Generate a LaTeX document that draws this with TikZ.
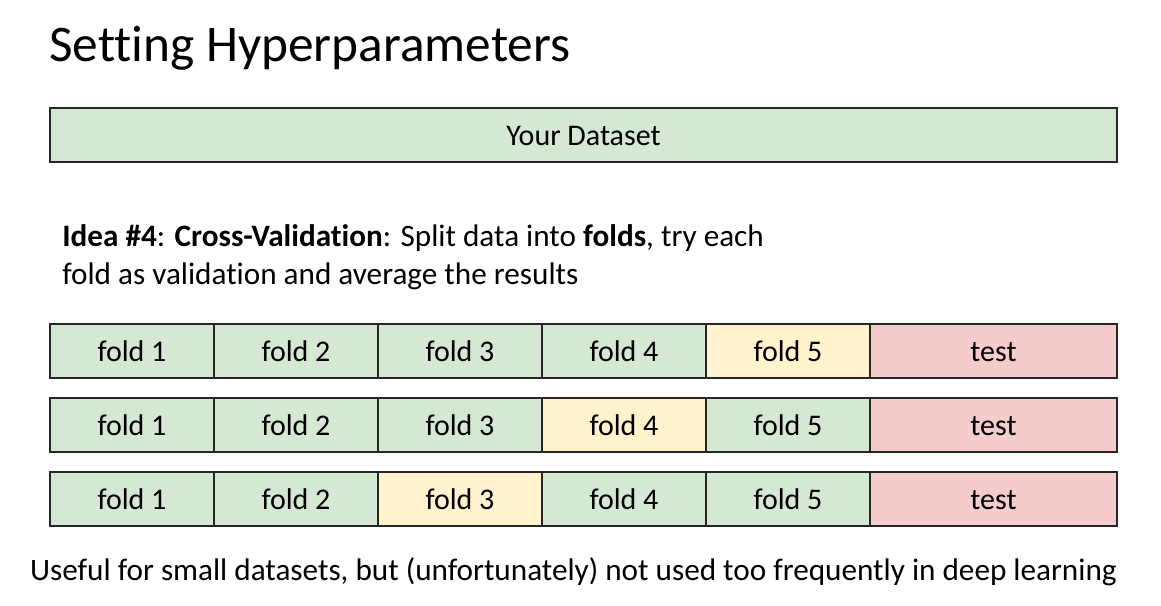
\documentclass[tikz,border=0pt]{standalone}
\usepackage{fontspec}
\setmainfont{Carlito}[Ligatures=NoCommon]
\usepackage{tikz}
\usetikzlibrary{positioning}
\definecolor{foldgreen}{HTML}{D5E8D4}
\definecolor{valyellow}{HTML}{FFF2CC}
\definecolor{testred}{HTML}{F4CCCC}

\begin{document}
\begin{tikzpicture}[x=0.75pt,y=-0.75pt,
	cell/.style={draw=black!85,line width=1.1pt,rectangle,inner sep=0pt,minimum height=40.5pt,text height=15.75pt,text depth=0pt,font=\fontsize{22.5pt}{27pt}\selectfont},
	fold/.style={cell,fill=foldgreen,minimum width=123pt},
	val/.style={cell,fill=valyellow,minimum width=123pt},
	testcell/.style={cell,fill=testred,minimum width=185.25pt},
	bodytext/.style={inner sep=0pt,font=\fontsize{23.4pt}{28pt}\selectfont}]
	\useasboundingbox (0,0) rectangle (1161,606);
	\node[anchor=base west,inner sep=0pt,font=\fontsize{38.5pt}{46pt}\selectfont] (title) at (49,62) {Setting Hyperparameters};
	\node[cell,fill=foldgreen,minimum width=800.25pt] (data) at (583.5,135) {Your Dataset};
	\node[bodytext,anchor=base west] (idea1) at (62,247) {\textbf{Idea \#4}: \textbf{Cross-Validation}: Split data into \textbf{folds}, try each};
	\node[bodytext,anchor=base west] (idea2) at (62,284) {fold as validation and average the results};
	\node[fold] (a1) at (132,351) {fold 1};
	\node[fold] (a2) at (296,351) {fold 2};
	\node[fold] (a3) at (460,351) {fold 3};
	\node[fold] (a4) at (624,351) {fold 4};
	\node[val] (a5) at (788,351) {fold 5};
	\node[testcell] (at) at (993.5,351) {test};
	\node[fold] (b1) at (132,425) {fold 1};
	\node[fold] (b2) at (296,425) {fold 2};
	\node[fold] (b3) at (460,425) {fold 3};
	\node[val] (b4) at (624,425) {fold 4};
	\node[fold] (b5) at (788,425) {fold 5};
	\node[testcell] (bt) at (993.5,425) {test};
	\node[fold] (c1) at (132,499) {fold 1};
	\node[fold] (c2) at (296,499) {fold 2};
	\node[val] (c3) at (460,499) {fold 3};
	\node[fold] (c4) at (624,499) {fold 4};
	\node[fold] (c5) at (788,499) {fold 5};
	\node[testcell] (ct) at (993.5,499) {test};
	\node[bodytext,anchor=base] (note) at (573.5,580) {Useful for small datasets, but (unfortunately) not used too frequently in deep learning};
\end{tikzpicture}
\end{document}
